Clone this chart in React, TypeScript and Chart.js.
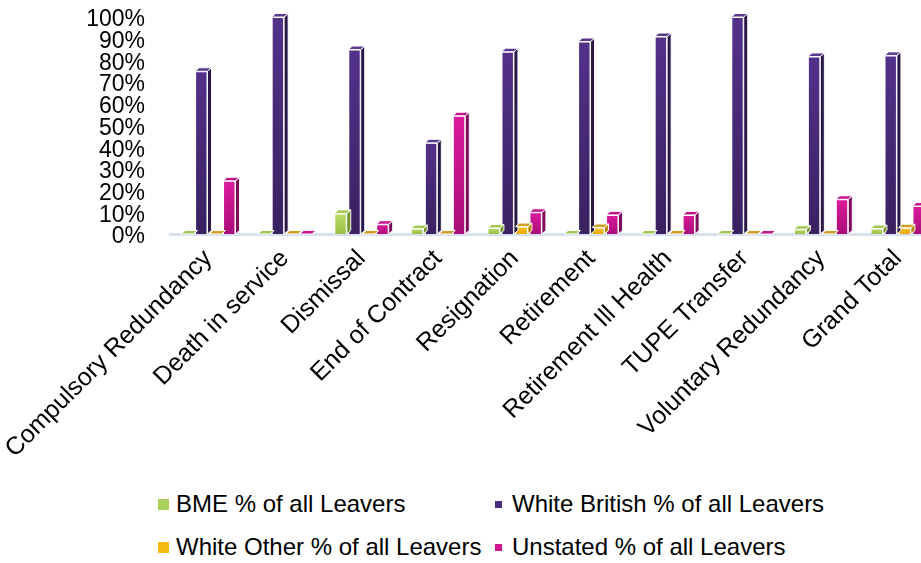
import React, { useEffect, useRef } from "react";
import { Chart, registerables } from "chart.js";

Chart.register(...registerables);

const categories = [
  "Compulsory Redundancy",
  "Death in service",
  "Dismissal",
  "End of Contract",
  "Resignation",
  "Retirement",
  "Retirement Ill Health",
  "TUPE Transfer",
  "Voluntary Redundancy",
  "Grand Total",
];

const seriesNames = [
  "BME % of all Leavers",
  "White British % of all Leavers",
  "White Other % of all Leavers",
  "Unstated % of all Leavers",
];

const bme = [0, 0, 9.5, 2.5, 2.8, 0, 0, 0, 2.2, 2.5];
const whiteBritish = [75, 100, 85, 42, 84, 88.7, 91, 100, 81.8, 82.3];
const whiteOther = [0, 0, 0, 0, 3.4, 3, 0, 0, 0, 2.9];
const unstated = [24.5, 0, 4.5, 54.5, 10, 8.8, 8.8, 0, 16, 12.9];

const yTickLabels = ["0%", "10%", "20%", "30%", "40%", "50%", "60%", "70%", "80%", "90%", "100%"];

const FONT = "Arial, 'Liberation Sans', Helvetica, sans-serif";

const palette = [
  { legend: "#a9d05a", top: "#bddc68", bottom: "#98c045", side: "#76972f", cap: "#a3c753" },
  { legend: "#4b2a7b", top: "#53318a", bottom: "#3a2160", side: "#2a1747", cap: "#5a3990" },
  { legend: "#f5bc14", top: "#f8c31e", bottom: "#e8aa00", side: "#b98700", cap: "#cf9e22" },
  { legend: "#d0168f", top: "#dc1a9c", bottom: "#a80f78", side: "#7d0b5a", cap: "#c3168a" },
];

const bar3d = {
  id: "bar3d",
  afterDatasetsDraw(chart: any) {
    const ctx = chart.ctx;
    const dx = 4;
    const dy = 3.5;
    chart.data.datasets.forEach((_ds: any, i: number) => {
      const meta = chart.getDatasetMeta(i);
      const c = palette[i];
      meta.data.forEach((el: any) => {
        const { x, y, base, width } = el.getProps(["x", "y", "base", "width"], true);
        const l = x - width / 2;
        const r = x + width / 2;
        ctx.save();
        ctx.lineWidth = 1;
        ctx.strokeStyle = "rgba(255,255,255,0.95)";
        ctx.lineJoin = "round";
        if (base - y > 0.5) {
          ctx.beginPath();
          ctx.moveTo(r, y);
          ctx.lineTo(r + dx, y - dy);
          ctx.lineTo(r + dx, base - dy);
          ctx.lineTo(r, base);
          ctx.closePath();
          ctx.fillStyle = c.side;
          ctx.fill();
          ctx.stroke();
        }
        ctx.beginPath();
        ctx.moveTo(l, y);
        ctx.lineTo(l + dx, y - dy);
        ctx.lineTo(r + dx, y - dy);
        ctx.lineTo(r, y);
        ctx.closePath();
        ctx.fillStyle = c.cap;
        ctx.fill();
        ctx.stroke();
        ctx.restore();
      });
    });
  },
};

function makeBg(ctx: any) {
  const c = palette[ctx.datasetIndex];
  const chart = ctx.chart;
  const ys = chart.scales && chart.scales.y;
  if (!ys || ctx.type !== "data") return c.top;
  const top = ys.getPixelForValue(ctx.raw as number);
  const bot = ys.getPixelForValue(0);
  if (!isFinite(top) || !isFinite(bot) || bot - top < 1) return c.top;
  const g = chart.ctx.createLinearGradient(0, top, 0, bot);
  g.addColorStop(0, c.top);
  g.addColorStop(1, c.bottom);
  return g;
}

export default function App() {
  const ref = useRef<HTMLCanvasElement | null>(null);

  useEffect(() => {
    if (!ref.current) return;
    const seriesData = [bme, whiteBritish, whiteOther, unstated];
    const chart = new Chart(ref.current, {
      type: "bar",
      data: {
        labels: categories,
        datasets: seriesNames.map((name, i) => ({
          label: name,
          data: seriesData[i],
          backgroundColor: makeBg,
          borderColor: "rgba(255,255,255,0.95)",
          borderWidth: 1,
          categoryPercentage: 0.73,
          barPercentage: 0.89,
        })),
      },
      options: {
        animation: false,
        responsive: false,
        devicePixelRatio: 1,
        layout: { padding: { top: 17, right: 4, left: 0, bottom: 0 } },
        plugins: { legend: { display: false }, tooltip: { enabled: false } },
        scales: {
          x: {
            grid: { display: false, drawTicks: false },
            border: { display: true, color: "#d8e0f2", width: 3 },
            ticks: {
              autoSkip: false,
              maxRotation: 45,
              minRotation: 45,
              font: { family: FONT, size: 25 },
              color: "#000",
              padding: 10,
            },
            afterFit: (s: any) => {
              s.height = 236;
              s.paddingLeft = 0;
              s.paddingRight = 0;
            },
          },
          y: {
            min: 0,
            max: 100,
            grid: { display: false, drawTicks: false },
            border: { display: false },
            ticks: {
              stepSize: 10,
              autoSkip: false,
              callback: (_v: any, i: number) => yTickLabels[i],
              font: { family: FONT, size: 23 },
              color: "#000",
              padding: 25,
              labelOffset: 3,
            },
            afterFit: (s: any) => {
              s.width = 170;
              s.paddingTop = 0;
              s.paddingBottom = 0;
            },
          },
        },
      } as any,
      plugins: [bar3d],
    });
    return () => chart.destroy();
  }, []);

  const legendPos = [
    { left: 158, top: 504, size: 11, gap: 7 },
    { left: 495, top: 504, size: 7, gap: 10 },
    { left: 158, top: 547, size: 11, gap: 7 },
    { left: 495, top: 547, size: 7, gap: 10 },
  ];

  return (
    <div
      style={{
        position: "absolute",
        left: 0,
        top: 0,
        width: 921,
        height: 563,
        overflow: "hidden",
        background: "#fff",
        fontFamily: FONT,
      }}
    >
      <canvas ref={ref} width={940} height={470} style={{ position: "absolute", left: 0, top: 0 }} />
      {seriesNames.map((name, i) => (
        <div
          key={name}
          style={{
            position: "absolute",
            left: legendPos[i].left,
            top: legendPos[i].top - 14,
            height: 28,
            display: "flex",
            alignItems: "center",
            whiteSpace: "nowrap",
          }}
        >
          <span
            style={{
              display: "inline-block",
              width: legendPos[i].size,
              height: legendPos[i].size,
              background: palette[i].legend,
              marginRight: legendPos[i].gap,
            }}
          />
          <span style={{ fontSize: 24, lineHeight: "28px", color: "#000" }}>{name}</span>
        </div>
      ))}
    </div>
  );
}
